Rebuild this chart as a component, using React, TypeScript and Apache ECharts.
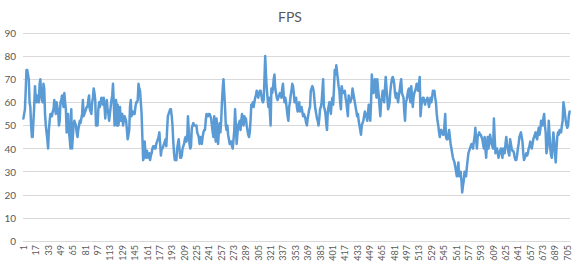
import React, { useEffect, useRef } from "react";
import * as echarts from "echarts";

const chartTitle = "FPS";

// samples 1–229
const fpsPart1 = [
  53, 55, 57, 65, 74, 74, 72, 70, 60, 58,
  50, 45, 45, 52, 58, 67, 62, 60, 63, 61,
  60, 68, 70, 63, 61, 60, 68, 66, 55, 50,
  47, 44, 40, 48, 52, 55, 55, 54, 56, 57,
  61, 57, 55, 60, 58, 56, 50, 52, 60, 61,
  63, 60, 58, 64, 60, 57, 47, 52, 55, 47,
  44, 40, 57, 40, 45, 50, 52, 51, 50, 47,
  45, 48, 50, 52, 51, 53, 55, 61, 54, 55,
  56, 57, 58, 58, 61, 63, 57, 56, 55, 60,
  62, 66, 64, 61, 50, 52, 50, 57, 60, 58,
  60, 62, 60, 59, 62, 58, 53, 58, 61, 57,
  55, 52, 55, 58, 61, 63, 68, 60, 50, 55,
  61, 50, 59, 50, 53, 58, 52, 54, 55, 50,
  52, 54, 53, 52, 48, 44, 46, 48, 58, 61,
  54, 55, 56, 55, 55, 58, 60, 60, 61, 68,
  66, 65, 60, 55, 45, 35, 36, 43, 38, 36,
  39, 37, 36, 38, 35, 37, 38, 40, 41, 41,
  40, 40, 42, 43, 44, 45, 47, 42, 37, 40,
  40, 41, 42, 43, 44, 41, 48, 54, 55, 56,
  57, 57, 54, 50, 43, 38, 35, 36, 35, 40,
  42, 44, 40, 36, 36, 37, 40, 41, 42, 44,
  45, 43, 44, 54, 48, 42, 40, 41, 49, 50,
  51, 50, 50, 50, 50, 47, 46, 45, 42,
];

// samples 230–475
const fpsPart2 = [
  45, 43, 42, 45, 47, 48, 48, 52, 55, 54,
  54, 55, 55, 54, 53, 50, 47, 45, 54, 47,
  43, 53, 48, 42, 47, 51, 47, 52, 60, 66,
  70, 64, 58, 50, 48, 50, 46, 44, 42, 43,
  43, 41, 40, 44, 48, 57, 50, 42, 46, 50,
  51, 52, 48, 52, 55, 52, 50, 54, 53, 53,
  50, 48, 46, 45, 47, 52, 59, 58, 60, 58,
  60, 62, 63, 65, 63, 62, 64, 65, 65, 63,
  61, 60, 61, 70, 80, 72, 66, 62, 58, 62,
  56, 50, 66, 64, 66, 70, 72, 66, 64, 62,
  61, 62, 63, 64, 63, 62, 66, 68, 63, 60,
  62, 60, 57, 54, 52, 58, 60, 63, 65, 68,
  67, 64, 60, 61, 62, 58, 56, 58, 60, 56,
  57, 58, 56, 54, 55, 54, 53, 51, 50, 53,
  55, 57, 58, 65, 66, 67, 66, 64, 60, 57,
  55, 53, 52, 50, 53, 57, 58, 60, 65, 70,
  58, 57, 55, 51, 48, 56, 58, 60, 57, 55,
  60, 62, 59, 66, 74, 72, 76, 73, 70, 67,
  65, 60, 57, 67, 65, 64, 64, 65, 62, 60,
  57, 54, 63, 61, 60, 61, 62, 66, 64, 62,
  60, 58, 56, 54, 55, 52, 50, 48, 46, 50,
  51, 52, 54, 56, 55, 54, 52, 55, 59, 55,
  52, 60, 72, 68, 64, 67, 70, 66, 62, 70,
  66, 63, 58, 54, 60, 62, 65, 62, 60, 66,
  71, 66, 62, 57, 58, 60,
];

// samples 476–708
const fpsPart3 = [
  65, 68, 70, 71, 70, 68, 64, 62, 64, 62,
  60, 63, 65, 68, 70, 64, 63, 62, 56, 52,
  60, 61, 63, 65, 66, 62, 60, 67, 63, 58,
  62, 64, 65, 66, 68, 66, 65, 68, 71, 54,
  58, 61, 62, 62, 60, 59, 61, 61, 62, 60,
  58, 60, 62, 60, 62, 65, 64, 65, 62, 60,
  55, 52, 50, 47, 45, 48, 48, 47, 46, 46,
  50, 55, 45, 44, 44, 46, 48, 45, 42, 40,
  38, 36, 35, 34, 32, 30, 28, 31, 34, 28,
  28, 30, 26, 21, 24, 26, 30, 29, 28, 32,
  35, 38, 39, 40, 41, 42, 41, 40, 43, 45,
  49, 44, 40, 45, 46, 47, 46, 46, 45, 44,
  42, 40, 45, 40, 36, 42, 45, 40, 43, 46,
  44, 42, 41, 40, 53, 45, 38, 39, 40, 38,
  36, 38, 39, 40, 38, 36, 40, 39, 38, 42,
  45, 42, 40, 38, 37, 44, 42, 40, 39, 39,
  38, 36, 35, 35, 37, 40, 42, 45, 46, 47,
  45, 43, 38, 35, 36, 37, 38, 37, 38, 40,
  41, 43, 42, 40, 42, 44, 45, 46, 47, 45,
  44, 47, 49, 46, 48, 52, 51, 50, 53, 55,
  50, 47, 38, 40, 43, 52, 46, 40, 37, 36,
  42, 47, 43, 38, 34, 40, 45, 47, 46, 48,
  48, 47, 50, 52, 60, 58, 55, 52, 50, 49,
  50, 54, 56,
];

const fpsValues = [...fpsPart1, ...fpsPart2, ...fpsPart3];
const categories = fpsValues.map((_, i) => String(i + 1));

const yMin = 0;
const yMax = 90;
const yStep = 10;
const labelEvery = 16;

export default function App() {
  const ref = useRef<HTMLDivElement>(null);

  useEffect(() => {
    if (!ref.current) return;
    const chart = echarts.init(ref.current, null, { renderer: "svg" });
    const font = "Lato, 'Liberation Sans', sans-serif";
    chart.setOption({
      animation: false,
      backgroundColor: "#ffffff",
      textStyle: { fontFamily: font },
      title: {
        text: chartTitle,
        left: "center",
        top: 4,
        textStyle: { fontFamily: font, fontSize: 14, fontWeight: "normal", color: "#595959" },
      },
      grid: { left: 23, right: 10, top: 33, bottom: 23, containLabel: false },
      xAxis: {
        type: "category",
        data: categories,
        boundaryGap: true,
        axisLine: { lineStyle: { color: "#D9D9D9", width: 1 } },
        axisTick: { show: false },
        axisLabel: {
          interval: labelEvery - 1,
          rotate: 90,
          fontSize: 9,
          color: "#595959",
          fontFamily: font,
          margin: 4,
        },
        splitLine: { show: false },
      },
      yAxis: {
        type: "value",
        min: yMin,
        max: yMax,
        interval: yStep,
        axisLine: { show: false },
        axisTick: { show: false },
        axisLabel: { fontSize: 10, color: "#595959", fontFamily: font, margin: 7 },
        splitLine: { lineStyle: { color: "#D9D9D9", width: 1 } },
      },
      series: [
        {
          type: "line",
          data: fpsValues,
          symbol: "none",
          lineStyle: { color: "#5B9BD5", width: 2.5, join: "round", cap: "round" },
          itemStyle: { color: "#5B9BD5" },
        },
      ],
    });
    return () => chart.dispose();
  }, []);

  return (
    <div
      ref={ref}
      style={{ position: "fixed", left: 0, top: 0, width: 580, height: 264, background: "#ffffff" }}
    />
  );
}
